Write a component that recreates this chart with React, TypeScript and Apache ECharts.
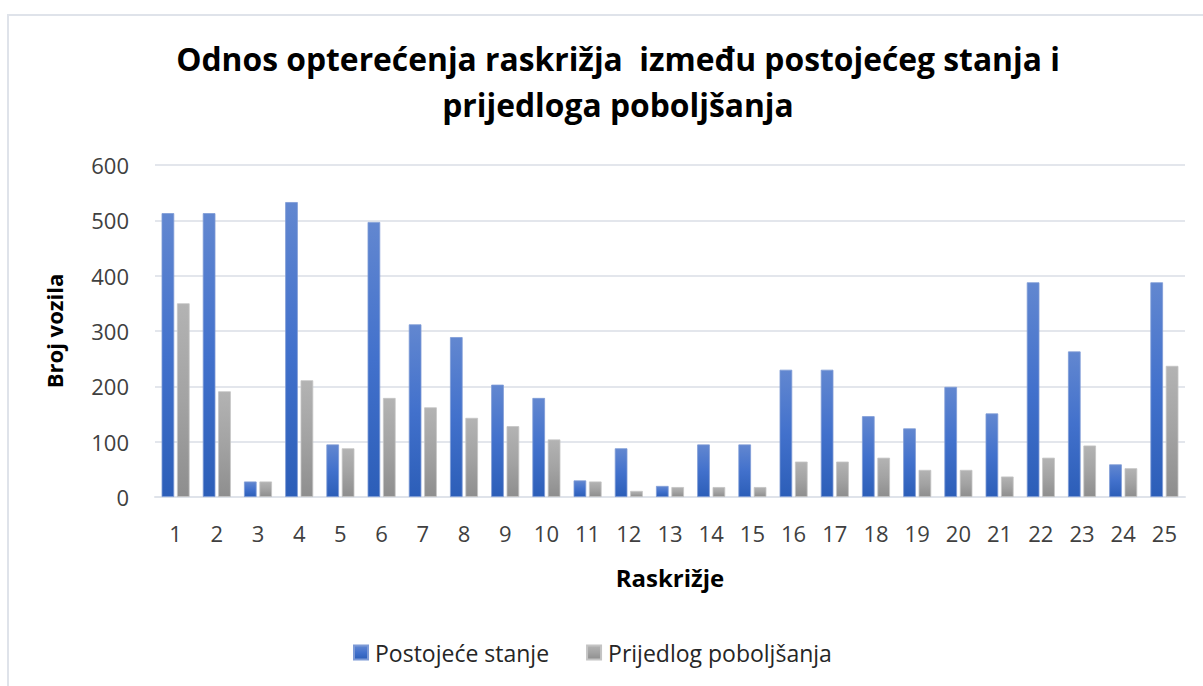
import React, { useEffect, useRef } from "react";
import * as echarts from "echarts";

const categories = ["1","2","3","4","5","6","7","8","9","10","11","12","13","14","15","16","17","18","19","20","21","22","23","24","25"];
const postojece = [513, 513, 28, 533, 95, 497, 312, 289, 203, 179, 30, 88, 20, 95, 95, 230, 230, 146, 124, 199, 151, 388, 263, 59, 388];
const prijedlog = [350, 191, 28, 211, 88, 179, 162, 143, 128, 104, 28, 11, 18, 18, 18, 64, 64, 71, 49, 49, 37, 71, 93, 52, 237];
const seriesNames = ["Postojeće stanje", "Prijedlog poboljšanja"];
const titleText = "Odnos opterećenja raskrižja  između postojećeg stanja i\nprijedloga poboljšanja";
const xName = "Raskrižje";
const yName = "Broj vozila";

const FONT = "'Open Sans', sans-serif";

export default function App() {
  const ref = useRef<HTMLDivElement>(null);
  useEffect(() => {
    if (!ref.current) return;
    const chart = echarts.init(ref.current, undefined, { renderer: "svg" });
    const blue = new echarts.graphic.LinearGradient(0, 0, 0, 1, [
      { offset: 0, color: "#6287d0" },
      { offset: 0.5, color: "#4271cc" },
      { offset: 1, color: "#2c5eb8" },
    ]);
    const gray = new echarts.graphic.LinearGradient(0, 0, 0, 1, [
      { offset: 0, color: "#b3b3b3" },
      { offset: 0.5, color: "#a3a3a3" },
      { offset: 1, color: "#8e8e8e" },
    ]);
    chart.setOption({
      animation: false,
      backgroundColor: "#ffffff",
      graphic: [
        {
          type: "rect",
          shape: { x: 8, y: 15, width: 1300, height: 800 },
          style: { fill: "none", stroke: "#dfe3ea", lineWidth: 2 },
          silent: true,
        },
      ],
      title: {
        text: titleText,
        left: 613,
        textAlign: "center",
        top: 30,
        textStyle: {
          fontFamily: FONT,
          fontWeight: "bold",
          fontSize: 31.8,
          lineHeight: 46,
          color: "#000000",
        },
      },
      legend: {
        data: seriesNames,
        top: 636,
        left: 348,
        itemWidth: 14,
        itemHeight: 14,
        itemGap: 37,
        icon: "rect",
        textStyle: { fontFamily: FONT, fontSize: 23, color: "#262626", padding: [0, 0, 0, 2] },
      },
      grid: { left: 155, right: 18, top: 165, bottom: 189, containLabel: false },
      xAxis: {
        type: "category",
        data: categories,
        name: xName,
        nameLocation: "middle",
        nameGap: 68,
        nameTextStyle: { fontFamily: FONT, fontWeight: "bold", fontSize: 24, color: "#000" },
        axisLine: { lineStyle: { color: "#dfe3ea", width: 2 } },
        axisTick: { show: false },
        axisLabel: { margin: 25, fontFamily: FONT, fontSize: 22, color: "#404040" },
      },
      yAxis: {
        type: "value",
        min: 0,
        max: 600,
        interval: 100,
        name: yName,
        nameLocation: "middle",
        nameGap: 90,
        nameRotate: 90,
        nameTextStyle: { fontFamily: FONT, fontWeight: "bold", fontSize: 22, color: "#000" },
        axisLine: { show: false },
        axisTick: { show: false },
        splitLine: { lineStyle: { color: "#e3e6ec", width: 2 } },
        axisLabel: { margin: 26, fontFamily: FONT, fontSize: 22, color: "#404040" },
      },
      series: [
        {
          name: seriesNames[0],
          type: "bar",
          data: postojece,
          barCategoryGap: "32%",
          barGap: "22%",
          itemStyle: { color: blue, borderColor: "#7d9ad6", borderWidth: 0.8 },
        },
        {
          name: seriesNames[1],
          type: "bar",
          data: prijedlog,
          itemStyle: { color: gray, borderColor: "#c4c4c4", borderWidth: 0.8 },
        },
      ],
    });
    return () => chart.dispose();
  }, []);
  return (
    <div
      ref={ref}
      style={{ position: "fixed", left: 0, top: 0, width: 1203, height: 686, background: "#fff" }}
    />
  );
}
